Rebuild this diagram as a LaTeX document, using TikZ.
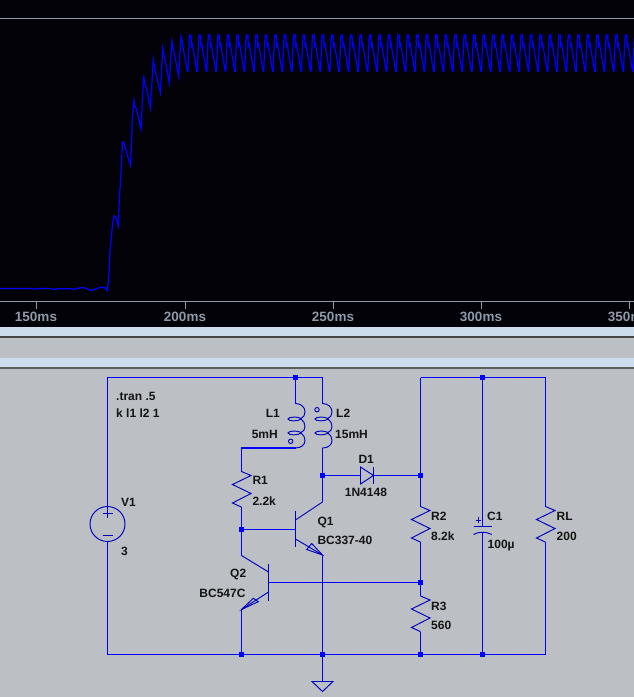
\documentclass[tikz,border=0pt]{standalone}
\usepackage{fontspec}
\setmainfont{Liberation Sans}
\definecolor{plotbg}{HTML}{030208}
\definecolor{axisc}{HTML}{8E9AAA}
\definecolor{barc}{HTML}{CDDCEC}
\definecolor{panel}{HTML}{BCBFC4}
\definecolor{edgec}{HTML}{454545}
\definecolor{wirec}{HTML}{0000FF}
\definecolor{symc}{HTML}{0000C0}
\definecolor{txt}{HTML}{141414}
\tikzset{
  x=1pt,y=-1pt,
  wire/.style={draw=wirec,line width=1.2pt},
  sym/.style={draw=symc,line width=.95pt,line join=miter},
  wave/.style={draw=wirec,line width=1.25pt,line join=miter},
  lbl/.style={anchor=base west,inner sep=0pt,text=txt,font=\fontsize{12}{13}\selectfont\bfseries},
  lblr/.style={lbl,anchor=base east},
  tick/.style={anchor=base,inner sep=0pt,text=axisc,font=\fontsize{13.5}{14}\selectfont\bfseries},
  dotj/.style={fill=wirec,draw=none},
  pics/resist/.style={code={\draw[sym] (0,0)--(9.5,4)--(-9,13)--(9.5,22)--(-9,31.5)--(0,35.6);}},
  pics/coil/.style={code={
    \draw[sym] (0,0) .. controls (6,0) and (9.5,4) .. (9.5,8.5) .. controls (9.5,11.5) and (8,14) .. (5.5,15)
      .. controls (3,13) and (-7,13) .. (-7.5,15.5) .. controls (-7,18) and (3,18) .. (5.5,15.5)
      .. controls (8,17) and (9.5,20) .. (9.5,23) .. controls (9.5,26) and (8,28) .. (5.5,29)
      .. controls (3,27) and (-7,27) .. (-7.5,29.5) .. controls (-7,32) and (3,32) .. (5.5,29.5)
      .. controls (8,31) and (9.5,34) .. (9.5,37) .. controls (9.5,41) and (6,44.5) .. (0,44.5);}},
}
\newcommand{\jdot}[1]{\fill[dotj] ([shift={(-2.8,-2.8)}]#1) rectangle ([shift={(2.8,2.8)}]#1);}
\begin{document}
\begin{tikzpicture}
\useasboundingbox (0,0) rectangle (634,697);
% window bands
\fill[plotbg] (0,0) rectangle (634,327);
\fill[barc] (0,327) rectangle (634,336);
\fill[edgec] (0,336) rectangle (634,338);
\fill[panel] (0,338) rectangle (634,358);
\fill[barc] (0,358) rectangle (634,367);
\fill[edgec!80!panel] (0,367) rectangle (634,369);
\fill[panel] (0,369) rectangle (634,697);
% plot frame
\draw[axisc,line width=1pt] (0,18.5)--(634,18.5);
\draw[axisc,line width=1pt] (0,301)--(634,301);
\foreach \tx/\tl in {36/150ms,185/200ms,333/250ms,481/300ms,629/350ms}{
  \draw[axisc,line width=1pt] (\tx,301)--(\tx,308.5);
  \node[tick] at (\tx,321.5) {\tl};
}
% waveform
\begin{scope}
\clip (0,19) rectangle (634,301);
\draw[wave] (0,288.5)--(32,288.5)--(35,289.2)--(38,288.5)--(50,288.5)--(54,289.4)--(58,288.8)--(70,288.8)--(75,289.2)--(80,287.8)--(84,287.5)--(91,290.5)--(97,288.5)--(101,287)--(105,287.7)--(107.3,290.7)--(109,275)--(110,250)--(112.7,223)--(114.3,215.7)--(115.7,216.7)--(118.3,225.7)--(119.3,200)--(121.3,167)--(122.5,142)--(123.5,141.7)--(126,150)--(130.3,165)--(131.5,145)--(132.3,118)--(134,100.5)--(135,107)--(136.5,109)--(141,129)--(142.3,103)--(143.7,75.5)--(145,85)--(146.5,88)--(150.3,107.7)--(151.8,85)--(153.3,59.5)--(155,70)--(160.3,92.7)--(161.3,75)--(162.7,48)--(164,55)--(169.3,82.7)--(170.3,65)--(172,41.3)--(173.3,48)--(178.7,76.7)--(179.6,58)--(181,36.7)--(182.3,43)--(187.4,71.5)--(187.9,71.5)
  \foreach \k in {0,...,47}{
    --({189+9.47*\k},42)--({189.6+9.47*\k},35)--({191+9.47*\k},35)--({191.5+9.47*\k},46)--({192.3+9.47*\k},44)--({196.9+9.47*\k},71.5)--({197.4+9.47*\k},71.5)
  };
\end{scope}
% named points
\coordinate (tl) at (107.5,377.5);
\coordinate (jl1) at (295.5,377.5);
\coordinate (tm) at (322.5,377.5);
\coordinate (tr1) at (420.5,377.5);
\coordinate (jc) at (482.5,377.5);
\coordinate (trr) at (545.5,377.5);
\coordinate (bl) at (107.5,654.5);
\coordinate (jq2) at (241.5,654.5);
\coordinate (jg) at (322.5,654.5);
\coordinate (jr3) at (420.5,654.5);
\coordinate (jcb) at (482.5,654.5);
\coordinate (brr) at (545.5,654.5);
\coordinate (l1t) at (295.5,403.5);
\coordinate (l1b) at (295.5,448);
\coordinate (l2t) at (322.5,403.5);
\coordinate (l2b) at (322.5,448);
\coordinate (r1w) at (241.5,448);
\coordinate (r1t) at (241.5,471.5);
\coordinate (r1b) at (241.5,507);
\coordinate (jb1) at (241.5,529.5);
\coordinate (q1b) at (295.5,529.5);
\coordinate (q1c) at (322.5,502);
\coordinate (q1e) at (322.5,555);
\coordinate (q2c) at (241.5,555.5);
\coordinate (q2e) at (241.5,609.5);
\coordinate (q2b) at (268.5,582.5);
\coordinate (jd) at (322.5,475.5);
\coordinate (da) at (360.5,475.5);
\coordinate (dk) at (373.5,475.5);
\coordinate (jr2) at (420.5,475.5);
\coordinate (r2t) at (420.5,506.5);
\coordinate (r2b) at (420.5,542);
\coordinate (jm) at (420.5,582.5);
\coordinate (r3t) at (420.5,596);
\coordinate (r3b) at (420.5,631.5);
\coordinate (rlt) at (545.5,506.5);
\coordinate (rlb) at (545.5,542);
\coordinate (c1t) at (482.5,526);
\coordinate (c1b) at (482.5,532);
\coordinate (v1t) at (107.5,518);
\coordinate (v1b) at (107.5,541.5);
\coordinate (gnd) at (322.5,681.5);
% wires
\draw[wire] (v1t)--(tl)--(tm)--(l2t);
\draw[wire] (jl1)--(l1t);
\draw[wire] (c1t)--(jc);
\draw[wire] (tr1)--(trr)--(rlt);
\draw[wire] (tr1)--(r2t);
\draw[wire] (l1b)--(r1w)--(r1t);
\draw[wire] (l2b)--(q1c);
\draw[wire] (r1b)--(q2c);
\draw[wire] (jb1)--(q1b);
\draw[wire] (jd)--(da);
\draw[wire] (dk)--(jr2);
\draw[wire] (r2b)--(r3t);
\draw[wire] (q2b)--(jm);
\draw[wire] (r3b)--(jr3);
\draw[wire] (q1e)--(gnd);
\draw[wire] (q2e)--(jq2);
\draw[wire] (c1b)--(jcb);
\draw[wire] (rlb)--(brr)--(bl)--(v1b);
% junctions
\foreach \j in {jl1,jc,jq2,jg,jr3,jcb,jb1,jd,jr2,jm}{\jdot{\j}}
% resistors
\pic at (r1t) {resist};
\pic at (r2t) {resist};
\pic at (r3t) {resist};
\pic at (rlt) {resist};
% coils
\pic at (l1t) {coil};
\pic at (l2t) {coil};
\draw[sym] (290.7,441.3) circle (2.2);
\draw[sym] (317,409.7) circle (2.2);
% Q1
\draw[sym] (295.5,511)--(295.5,546.7);
\draw[sym] (295.5,520)--(q1c);
\draw[sym] (295.5,539)--(q1e);
\draw[sym] (q1e)--(311.7,543.5)--(306.7,549.5)--cycle;
% Q2
\draw[sym] (268.5,564)--(268.5,600.7);
\draw[sym] (268.5,572)--(q2c);
\draw[sym] (268.5,592)--(q2e);
\draw[sym] (q2e)--(253.3,598.3)--(258.3,601.7)--cycle;
% diode
\draw[sym] (360.5,467)--(dk)--(360.5,484)--cycle;
\draw[sym] (373.5,467)--(373.5,484);
% capacitor
\draw[sym] (473.5,526)--(491.7,526);
\draw[sym] (473.5,534.5) .. controls (478,531.5) and (487,531.5) .. (491.7,534.5);
\draw[sym] (475.5,520)--(481,520) (478.3,517.2)--(478.3,522.8);
% source
\draw[sym] (107.5,524) circle (17.5);
\draw[sym] (102.5,513.5)--(112.5,513.5) (107.5,509)--(107.5,518);
\draw[sym] (102.5,535)--(112.5,535);
% ground
\draw[sym] (312,681.5)--(333,681.5)--(322.5,691.5)--cycle;
% labels
\node[lbl] (tran) at (116,400) {.tran .5};
\node[lbl] (kk) at (116,417) {k l1 l2 1};
\node[lblr] (nl1) at (280,417) {L1};
\node[lblr] (vl1) at (278,438) {5mH};
\node[lbl] (nl2) at (336,417) {L2};
\node[lbl] (vl2) at (335,438) {15mH};
\node[lbl] (nr1) at (252.3,484) {R1};
\node[lbl] (vr1) at (252.3,505) {2.2k};
\node[lbl] (nv1) at (121,506.5) {V1};
\node[lbl] (vv1) at (121,555) {3};
\node[lbl] (nq1) at (317.3,525) {Q1};
\node[lbl] (vq1) at (317.3,544.5) {BC337-40};
\node[lbl] (nq2) at (230,577.5) {Q2};
\node[lblr] (vq2) at (245.7,597.5) {BC547C};
\node[lbl] (nd1) at (358.3,463.5) {D1};
\node[lbl] (vd1) at (344.7,496) {1N4148};
\node[lbl] (nr2) at (431,520) {R2};
\node[lbl] (vr2) at (431,540.5) {8.2k};
\node[lbl] (nr3) at (431,610) {R3};
\node[lbl] (vr3) at (431,629.5) {560};
\node[lbl] (nc1) at (487,520) {C1};
\node[lbl] (vc1) at (487.5,548) {100µ};
\node[lbl] (nrl) at (556.5,520) {RL};
\node[lbl] (vrl) at (556.5,540.5) {200};
\end{tikzpicture}
\end{document}
